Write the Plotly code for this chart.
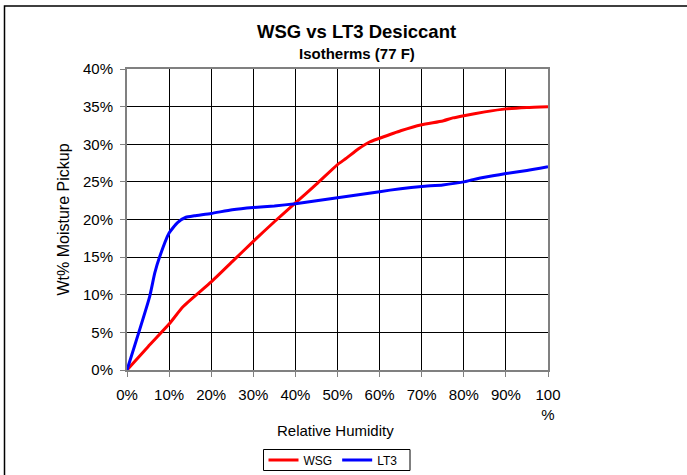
import plotly.graph_objects as go

# Data (Relative Humidity %, Wt% moisture pickup)
wsg_rh = [0, 5, 10, 13.3, 20, 25, 30, 35, 40, 45, 50, 52, 55, 57.6, 60, 65, 70, 75, 77.4, 80, 85, 90, 95, 100]
wsg_wt = [0, 3.1, 6.1, 8.4, 11.7, 14.4, 17.1, 19.7, 22.2, 24.7, 27.3, 28.1, 29.4, 30.3, 30.8, 31.8, 32.6, 33.1, 33.5, 33.8, 34.3, 34.7, 34.9, 35.0]

lt3_rh = [0, 5.4, 6.6, 7.8, 10, 12, 14, 16, 20, 25, 30, 35, 40, 45, 50, 55, 60, 65, 70, 75, 80, 82.2, 86.9, 90, 95, 100]
lt3_wt = [0, 9.8, 12.9, 15.1, 18.2, 19.6, 20.3, 20.5, 20.8, 21.3, 21.6, 21.8, 22.1, 22.5, 22.9, 23.3, 23.7, 24.1, 24.4, 24.6, 25.0, 25.3, 25.8, 26.1, 26.5, 27.0]

x_ticks = [0, 10, 20, 30, 40, 50, 60, 70, 80, 90, 100]
x_ticktext = ["0%", "10%", "20%", "30%", "40%", "50%", "60%", "70%", "80%", "90%", "100<br>%"]
y_ticks = [0, 5, 10, 15, 20, 25, 30, 35, 40]
y_ticktext = ["0%", "5%", "10%", "15%", "20%", "25%", "30%", "35%", "40%"]

W, H = 687, 475
L, R, T, B = 127, 139, 69, 105
PW, PH = W - L - R, H - T - B


def px(xp):
    return (xp - L) / PW


def py(yp):
    return (H - B - yp) / PH


FONT = "Liberation Sans, Arial, sans-serif"

fig = go.Figure()
fig.add_trace(go.Scatter(x=wsg_rh, y=wsg_wt, mode="lines", name="WSG",
                         line=dict(color="#FF0000", width=3, shape="spline", smoothing=0.5)))
fig.add_trace(go.Scatter(x=lt3_rh, y=lt3_wt, mode="lines", name="LT3",
                         line=dict(color="#0000FF", width=3, shape="spline", smoothing=0.5)))

axis_common = dict(showgrid=True, gridcolor="black", gridwidth=1,
                   showline=True, linecolor="#808080", linewidth=2, mirror=True,
                   ticks="outside", ticklen=5, tickcolor="#808080", tickwidth=1,
                   zeroline=False, automargin=False,
                   tickfont=dict(family=FONT, size=15, color="black"))

fig.update_xaxes(range=[0, 100], tickvals=x_ticks, ticktext=x_ticktext,
                 ticklabelstandoff=5, **axis_common)
fig.update_yaxes(range=[0, 40], tickvals=y_ticks, ticktext=y_ticktext,
                 ticklabelstandoff=4, **axis_common)

fig.update_layout(
    width=W, height=H,
    margin=dict(l=L, r=R, t=T, b=B, autoexpand=False),
    paper_bgcolor="white", plot_bgcolor="white",
    font=dict(family=FONT, color="black"),
    showlegend=True,
    legend=dict(orientation="h", x=px(333), y=py(460), xanchor="center", yanchor="middle",
                bgcolor="rgba(0,0,0,0)", borderwidth=0, font=dict(size=12, family=FONT),
                itemwidth=30, tracegroupgap=0),
    annotations=[
        dict(text="<b>WSG vs LT3 Desiccant</b>", x=px(356), y=py(32), xref="paper", yref="paper",
             showarrow=False, xanchor="center", yanchor="middle", font=dict(size=18.5, family=FONT)),
        dict(text="<b>Isotherms (77 F)</b>", x=px(356.5), y=py(53.5), xref="paper", yref="paper",
             showarrow=False, xanchor="center", yanchor="middle", font=dict(size=15, family=FONT)),
        dict(text="Relative Humidity", x=px(335), y=py(430.5), xref="paper", yref="paper",
             showarrow=False, xanchor="center", yanchor="middle", font=dict(size=15, family=FONT)),
        dict(text="Wt% Moisture Pickup", x=px(63), y=py(219.5), xref="paper", yref="paper",
             showarrow=False, xanchor="center", yanchor="middle", textangle=-90,
             font=dict(size=16, family=FONT)),
    ],
    shapes=[
        dict(type="rect", xref="paper", yref="paper", x0=px(4.5), x1=px(720), y0=py(6), y1=py(500),
             line=dict(color="black", width=1.5), fillcolor="rgba(0,0,0,0)", layer="below"),
        dict(type="rect", xref="paper", yref="paper", x0=px(263.5), x1=px(410), y0=py(449.5), y1=py(470.5),
             line=dict(color="black", width=1), fillcolor="white", layer="below"),
    ],
)

fig.write_html("out.html", config={"displayModeBar": False},
               post_script="document.body.style.margin='0';document.body.style.overflow='hidden';")
